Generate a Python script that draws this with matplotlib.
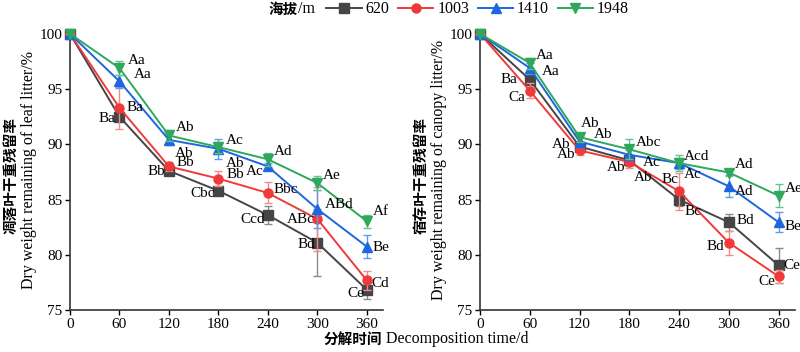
import matplotlib
matplotlib.use("Agg")
import matplotlib.pyplot as plt
from matplotlib.lines import Line2D

plt.rcParams['font.family'] = ['Liberation Serif', 'Noto Sans CJK SC']
plt.rcParams['mathtext.fontset'] = 'stix'

days = [0, 60, 120, 180, 240, 300, 360]
altitudes = ['620', '1003', '1410', '1948']

# Leaf litter (left)
leaf_620 = [100, 92.5, 87.6, 85.8, 83.6, 81.1, 76.85]
leaf_1003 = [100, 93.3, 88.0, 86.9, 85.6, 83.25, 77.7]
leaf_1410 = [100, 95.7, 90.4, 89.6, 88.0, 84.15, 80.75]
leaf_1948 = [100, 96.9, 90.8, 89.75, 88.65, 86.5, 83.05]
leaf_620_err = [0, 0.3, 0.4, 0.3, 0.8, 3.05, 0.8]
leaf_1003_err = [0, 1.9, 0.4, 0.65, 0.95, 2.9, 0.85]
leaf_1410_err = [0, 0.6, 0.5, 0.9, 0.3, 1.7, 1.05]
leaf_1948_err = [0, 0.6, 0.5, 0.5, 0.6, 0.6, 0.6]
leaf_620_sig = ['', 'Ba', 'Bb', 'Cbc', 'Ccd', 'Bd', 'Ce']
leaf_1003_sig = ['', 'Ba', 'Bb', 'Bb', 'Bbc', 'ABc', 'Cd']
leaf_1410_sig = ['', 'Aa', 'Ab', 'Ab', 'Ac', 'ABd', 'Be']
leaf_1948_sig = ['', 'Aa', 'Ab', 'Ac', 'Ad', 'Ae', 'Af']

# Canopy litter (right)
can_620 = [100, 95.85, 89.8, 88.55, 85.0, 82.95, 79.05]
can_1003 = [100, 94.85, 89.45, 88.4, 85.75, 81.1, 78.05]
can_1410 = [100, 96.9, 90.25, 89.05, 88.3, 86.2, 82.95]
can_1948 = [100, 97.35, 90.65, 89.55, 88.3, 87.45, 85.35]
can_620_err = [0, 0.4, 0.4, 0.5, 0.6, 0.78, 1.6]
can_1003_err = [0, 0.7, 0.4, 0.5, 1.65, 1.1, 0.6]
can_1410_err = [0, 0.5, 0.5, 0.4, 0.5, 1.0, 0.9]
can_1948_err = [0, 0.5, 0.4, 0.9, 0.7, 0.3, 1.05]
can_620_sig = ['', 'Ba', 'Ab', 'Ab', 'Bc', 'Bd', 'Ce']
can_1003_sig = ['', 'Ca', 'Ab', 'Ab', 'Bc', 'Bd', 'Ce']
can_1410_sig = ['', 'Aa', 'Ab', 'Ac', 'Ac', 'Ad', 'Be']
can_1948_sig = ['', 'Aa', 'Ab', 'Abc', 'Acd', 'Ad', 'Ae']

x_ticks = [0, 60, 120, 180, 240, 300, 360]
y_ticks = [75, 80, 85, 90, 95, 100]

# styles
colors = ['#454545', '#f03a3a', '#1e66e0', '#2ea85c']
err_colors = ['#8a8a8a', '#f58a8a', '#5c9cf0', '#64c48e']
markers = ['s', 'o', '^', 'v']
zorders = [3, 4, 5, 6]

# label pixel offsets (dx, dy, ha) per series per point
leaf_offsets = [
    [None, (-4, -2, 'right'), (-4, -1, 'right'), (-3, -3, 'right'), (-3, -4, 'right'), (-2, -2, 'right'), (-2, -4, 'right')],
    [None, (7, 0, 'left'), (8, 4, 'left'), (8, 4, 'left'), (6, 3, 'left'), (-2, -1, 'right'), (5, -3, 'left')],
    [None, (14, 7, 'left'), (6, -14, 'left'), (7, -15, 'left'), (-4, -5, 'right'), (8, 4, 'left'), (6, -1, 'left')],
    [None, (8, 8, 'left'), (7, 8, 'left'), (7, 7, 'left'), (6, 8, 'left'), (6, 8, 'left'), (6, 10, 'left')],
]
can_offsets = [
    [None, (-12, 0, 'right'), (-9, 2, 'right'), (5, -17, 'left'), (5, -12, 'left'), (8, 2, 'left'), (5, 0, 'left')],
    [None, (-5, -7, 'right'), (-4, -4, 'right'), (-4, -5, 'right'), (-1, 12, 'right'), (-5, -4, 'right'), (-3, -5, 'right')],
    [None, (12, -3, 'left'), (14, 7, 'left'), (14, -8, 'left'), (5, -11, 'left'), (6, -5, 'left'), (6, -4, 'left')],
    [None, (6, 8, 'left'), (1, 14, 'left'), (7, 7, 'left'), (5, 7, 'left'), (6, 8, 'left'), (6, 7, 'left')],
]

fig = plt.figure(figsize=(8.0, 3.52), dpi=100)
ax1 = fig.add_axes([0.0875, 0.119, 0.479 - 0.0875, 0.915 - 0.119])
ax2 = fig.add_axes([0.600, 0.119, 0.994 - 0.600, 0.915 - 0.119])

panels = [
    (ax1, [leaf_620, leaf_1003, leaf_1410, leaf_1948],
     [leaf_620_err, leaf_1003_err, leaf_1410_err, leaf_1948_err],
     [leaf_620_sig, leaf_1003_sig, leaf_1410_sig, leaf_1948_sig], leaf_offsets,
     '凋落叶干重残留率', 'Dry weight remaining of leaf litter/%'),
    (ax2, [can_620, can_1003, can_1410, can_1948],
     [can_620_err, can_1003_err, can_1410_err, can_1948_err],
     [can_620_sig, can_1003_sig, can_1410_sig, can_1948_sig], can_offsets,
     '宿存叶干重残留率', 'Dry weight remaining of canopy litter/%'),
]

for ax, series, errs, sigs, offs, zh, en in panels:
    for i in range(4):
        ax.errorbar(days, series[i], yerr=errs[i], fmt='none', ecolor=err_colors[i],
                    elinewidth=1.0, capsize=3, capthick=1.0, zorder=zorders[i] - 0.5,
                    clip_on=False)
        ax.plot(days, series[i], color=colors[i], marker=markers[i], markersize=6.5,
                linewidth=1.4, zorder=zorders[i], clip_on=False)
        for j, s in enumerate(sigs[i]):
            if not s:
                continue
            dx, dy, ha = offs[i][j]
            ax.annotate(s, (days[j], series[i][j]), xytext=(dx, dy),
                        textcoords='offset pixels', ha=ha, va='center',
                        fontsize=11, zorder=10)
    ax.set_xlim(0, 380)
    ax.set_ylim(75, 100.35)
    ax.set_xticks(x_ticks)
    ax.set_yticks(y_ticks)
    ax.tick_params(direction='out', length=3.5, width=1.0, labelsize=11, pad=2)
    for sp in ['top', 'right']:
        ax.spines[sp].set_visible(False)
    for sp in ['left', 'bottom']:
        ax.spines[sp].set_linewidth(1.2)
        ax.spines[sp].set_color('#333333')
    ax.set_ylabel(en, fontsize=11.5, labelpad=2)

cjk = ['Noto Sans CJK SC', 'DejaVu Sans']

# Chinese y-label lines
fig.text(0.013, 0.50, '凋落叶干重残留率', rotation=90, ha='center', va='center',
         fontsize=10.5, family=cjk, fontweight='bold')
fig.text(0.526, 0.50, '宿存叶干重残留率', rotation=90, ha='center', va='center',
         fontsize=10.5, family=cjk, fontweight='bold')

# X label
fig.text(0.477, 0.038, '分解时间', ha='right', va='center', fontsize=10.5,
         family=cjk, fontweight='bold')
fig.text(0.482, 0.038, 'Decomposition time/d', ha='left', va='center', fontsize=11.5)

# Legend
handles = [Line2D([0], [0], color=colors[i], marker=markers[i], markersize=6.5,
                  linewidth=1.4) for i in range(4)]
fig.text(0.372, 0.974, '海拔', ha='right', va='center', fontsize=10.5,
         family=cjk, fontweight='bold')
fig.text(0.373, 0.974, '/m', ha='left', va='center', fontsize=11.5)
fig.legend(handles, altitudes, loc='center left', bbox_to_anchor=(0.408, 0.974),
           ncol=4, frameon=False, fontsize=11.5, handlelength=2.2, handletextpad=0.25,
           columnspacing=0.55, borderpad=0, borderaxespad=0)

fig.savefig('out.png', dpi=100)
